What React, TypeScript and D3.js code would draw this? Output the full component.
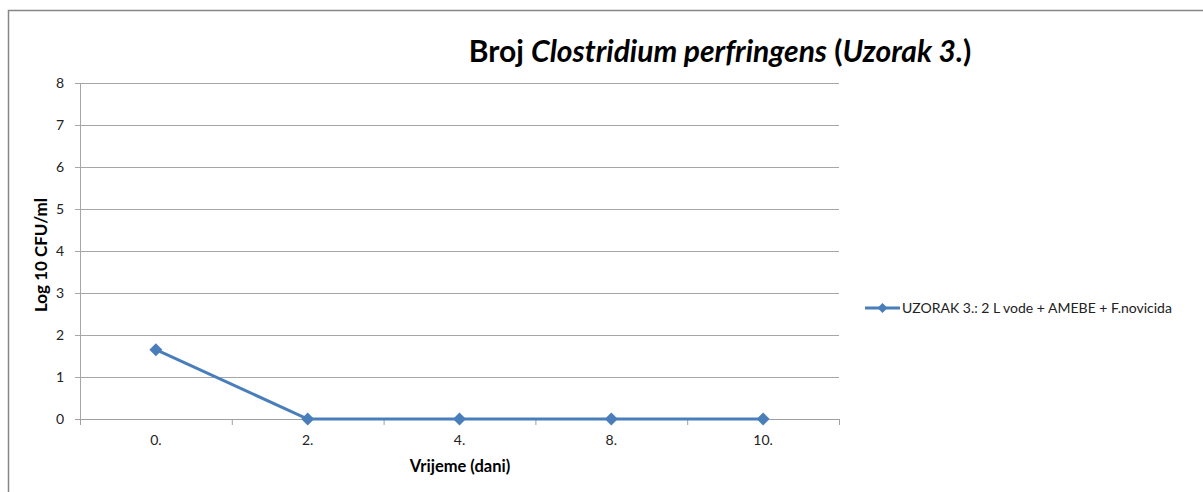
import React from "react";
import * as d3 from "d3";

const categories = ["0.", "2.", "4.", "8.", "10."];
const seriesValues = [1.65, 0, 0, 0, 0];
const yTicks = [0, 1, 2, 3, 4, 5, 6, 7, 8];
const seriesName = "UZORAK 3.: 2 L vode + AMEBE + F.novicida";

const W = 1203;
const H = 492;
const FONT = "Lato, Carlito, Calibri, sans-serif";

export default function App() {
  const left = 80, right = 839, top = 83, bottom = 419;
  const x = d3.scaleBand<string>().domain(categories).range([left, right]);
  const y = d3.scaleLinear().domain([0, 8]).range([bottom, top]);
  const line = d3
    .line<number>()
    .x((_, i) => (x(categories[i]) as number) + x.bandwidth() / 2)
    .y((d) => y(d));
  const color = "#4a7ebb";
  const diamond = (cx: number, cy: number, r: number) =>
    `M${cx},${cy - r}L${cx + r},${cy}L${cx},${cy + r}L${cx - r},${cy}Z`;
  const boundaries = [...categories.map((c) => x(c) as number), right];

  return (
    <svg
      width={W}
      height={H}
      style={{ position: "fixed", left: 0, top: 0, background: "#fff" }}
      fontFamily={FONT}
    >
      <rect x={8.5} y={10.5} width={W + 10} height={H + 10} fill="#fff" stroke="#868686" strokeWidth={1.5} />
      <text x={720} y={62} textAnchor="middle" fontSize={30} fontWeight="bold" fill="#000">
        Broj <tspan fontStyle="italic">Clostridium perfringens</tspan> (<tspan fontStyle="italic">Uzorak 3.</tspan>)
      </text>
      {yTicks.map((t) => (
        <g key={t}>
          <line x1={75} x2={right} y1={y(t) + 0.5} y2={y(t) + 0.5} stroke={t === 0 ? "#a0a0a0" : "#a6a6a6"} strokeWidth={1} />
          <text x={64} y={y(t) + 5} textAnchor="end" fontSize={14} fill="#222">
            {t}
          </text>
        </g>
      ))}
      <line x1={left + 0.5} x2={left + 0.5} y1={top} y2={bottom + 6} stroke="#a6a6a6" />
      {boundaries.map((b, i) => (
        <line key={i} x1={b + 0.5} x2={b + 0.5} y1={bottom} y2={bottom + 6} stroke="#a0a0a0" />
      ))}
      {categories.map((c) => (
        <text key={c} x={(x(c) as number) + x.bandwidth() / 2} y={445} textAnchor="middle" fontSize={14} fill="#222">
          {c}
        </text>
      ))}
      <text x={460} y={472} textAnchor="middle" fontSize={16.5} fontWeight="bold" fill="#000">
        Vrijeme (dani)
      </text>
      <text
        transform={`translate(47,${(top + bottom) / 2 + 4}) rotate(-90)`}
        textAnchor="middle"
        fontSize={17}
        fontWeight="bold"
        fill="#000"
      >
        Log 10 CFU/ml
      </text>
      <path d={line(seriesValues) as string} fill="none" stroke={color} strokeWidth={3} />
      {seriesValues.map((v, i) => (
        <path
          key={i}
          d={diamond((x(categories[i]) as number) + x.bandwidth() / 2, y(v), 6.5)}
          fill={color}
        />
      ))}
      <line x1={865} x2={900} y1={308} y2={308} stroke={color} strokeWidth={3} />
      <path d={diamond(882.5, 308, 5)} fill={color} />
      <text x={902} y={313} fontSize={14} fill="#222">
        {seriesName}
      </text>
    </svg>
  );
}
